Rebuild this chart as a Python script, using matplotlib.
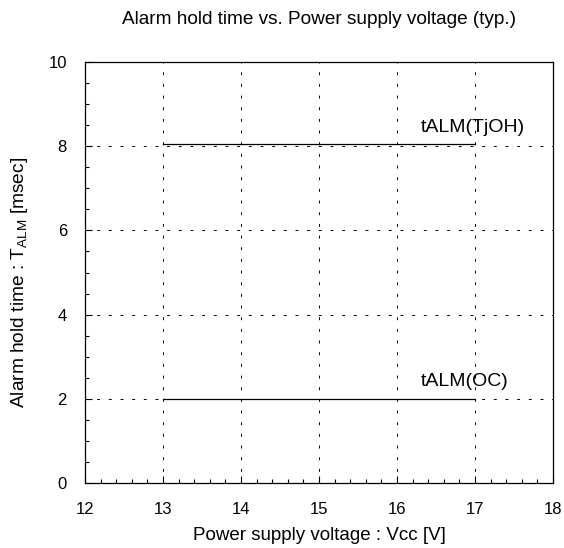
import matplotlib
matplotlib.use("Agg")
import matplotlib.pyplot as plt
from matplotlib.ticker import MultipleLocator

plt.rcParams['font.family'] = ['Liberation Sans', 'DejaVu Sans']

vcc = [13, 17]
t_tjoh = [8.05, 8.05]
t_oc = [2.0, 2.0]
xticks = [12, 13, 14, 15, 16, 17, 18]
yticks = [0, 2, 4, 6, 8, 10]

fig = plt.figure(figsize=(5.64, 5.48), dpi=100)
ax = fig.add_axes([85/564, 1-483/548, (553-85)/564, (483-62)/548])

ax.plot(vcc, t_tjoh, color='black', lw=0.9)
ax.plot(vcc, t_oc, color='black', lw=0.9)
ax.text(16.3, 8.05 + 0.2, 'tALM(TjOH)', fontsize=14, ha='left', va='bottom')
ax.text(16.3, 2.0 + 0.2, 'tALM(OC)', fontsize=14, ha='left', va='bottom')

ax.set_xlim(12, 18)
ax.set_ylim(0, 10)
ax.set_xticks(xticks)
ax.set_yticks(yticks)
ax.xaxis.set_minor_locator(MultipleLocator(0.2))
ax.yaxis.set_minor_locator(MultipleLocator(0.5))
ax.tick_params(which='both', direction='in', top=False, right=False, labelsize=12)
ax.tick_params(which='major', length=5, width=0.8)
ax.tick_params(which='minor', length=3, width=0.8)
ax.tick_params(axis='x', pad=14)
ax.tick_params(axis='y', pad=13)
ax.grid(True, which='major', color='black', linestyle=(0, (3, 9)), linewidth=0.7)
for s in ax.spines.values():
    s.set_linewidth(0.9)

ax.set_xlabel('Power supply voltage : Vcc [V]', fontsize=13.5, labelpad=7)
ax.set_ylabel(r'Alarm hold time : T$_{\mathregular{ALM}}$ [msec]', fontsize=13.8)
ax.yaxis.set_label_coords(-0.118, 0.477)
ax.set_title('Alarm hold time vs. Power supply voltage (typ.)', fontsize=13.7, pad=27)

fig.savefig('out.png', dpi=100)
